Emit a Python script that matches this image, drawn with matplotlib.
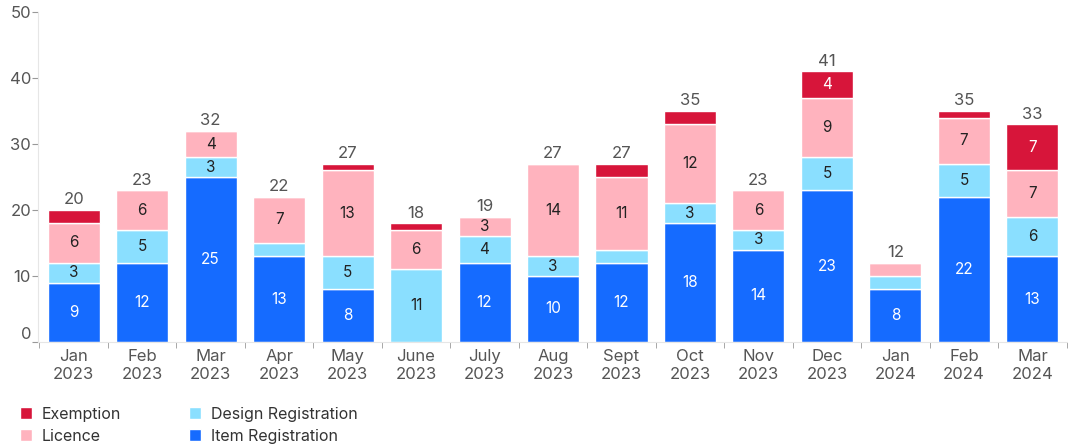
import numpy as np
import matplotlib
matplotlib.use('Agg')
import matplotlib.pyplot as plt

plt.rcParams['font.family'] = ['Inter', 'DejaVu Sans']

months = ['Jan\n2023', 'Feb\n2023', 'Mar\n2023', 'Apr\n2023', 'May\n2023', 'June\n2023',
          'July\n2023', 'Aug\n2023', 'Sept\n2023', 'Oct\n2023', 'Nov\n2023', 'Dec\n2023',
          'Jan\n2024', 'Feb\n2024', 'Mar\n2024']
item = [9, 12, 25, 13, 8, 0, 12, 10, 12, 18, 14, 23, 8, 22, 13]
design = [3, 5, 3, 2, 5, 11, 4, 3, 2, 3, 3, 5, 2, 5, 6]
licence = [6, 6, 4, 7, 13, 6, 3, 14, 11, 12, 6, 9, 2, 7, 7]
exemption = [2, 0, 0, 0, 1, 1, 0, 0, 2, 2, 0, 4, 0, 1, 7]

series = [('Item Registration', item, '#156BFF', 'white'),
          ('Design Registration', design, '#8ADFFF', '#222222'),
          ('Licence', licence, '#FFB3BE', '#222222'),
          ('Exemption', exemption, '#D7153A', 'white')]

fig = plt.figure(figsize=(10.68, 4.47), dpi=100)
ax = fig.add_axes([0.0356, 0.235, 0.9644, 0.738])

x = np.arange(len(months))
bottom = np.zeros(len(months))
handles = {}
for name, vals, col, tcol in series:
    vals = np.array(vals)
    b = ax.bar(x, vals, 0.76, bottom=bottom, color=col, edgecolor='white', linewidth=1)
    handles[name] = b
    for xi, v, bt in zip(x, vals, bottom):
        if v >= 3:
            ax.text(xi, bt + v / 2, str(v), ha='center', va='center', fontsize=11, color=tcol)
    bottom = bottom + vals

# totals above each bar
for xi, t in zip(x, bottom):
    ax.text(xi, t + 0.4, str(int(t)), ha='center', va='bottom', fontsize=12, color='#555555')

ax.set_xlim(-0.52, 14.52)
ax.set_ylim(0, 50)
ax.set_yticks([0, 10, 20, 30, 40, 50])
ax.set_xticks(x)
ax.set_xticklabels(months, linespacing=1.3)
ax.set_xticks(np.arange(-0.5, 15, 1), minor=True)
ax.tick_params(axis='x', which='major', length=0, labelsize=12, labelcolor='#555555', pad=5)
ax.tick_params(axis='x', which='minor', length=4, color='#999999')
ax.tick_params(axis='y', length=4, color='#999999', labelsize=12, labelcolor='#555555', pad=1)
for lab in ax.get_yticklabels():
    if lab.get_text() == '0':
        lab.set_verticalalignment('bottom')

for s in ['top', 'right']:
    ax.spines[s].set_visible(False)
ax.spines['left'].set_color('#e6e6e6')
ax.spines['bottom'].set_color('#e6e6e6')

order = ['Exemption', 'Licence', 'Design Registration', 'Item Registration']
fig.legend([handles[n] for n in order], order, ncol=2, loc='lower left',
           bbox_to_anchor=(0.005, -0.025), frameon=False, fontsize=11.5,
           handlelength=0.8, handleheight=0.8, handletextpad=0.6,
           columnspacing=4.2, labelspacing=0.45, labelcolor='#333333')

fig.savefig('out.png', dpi=100)
